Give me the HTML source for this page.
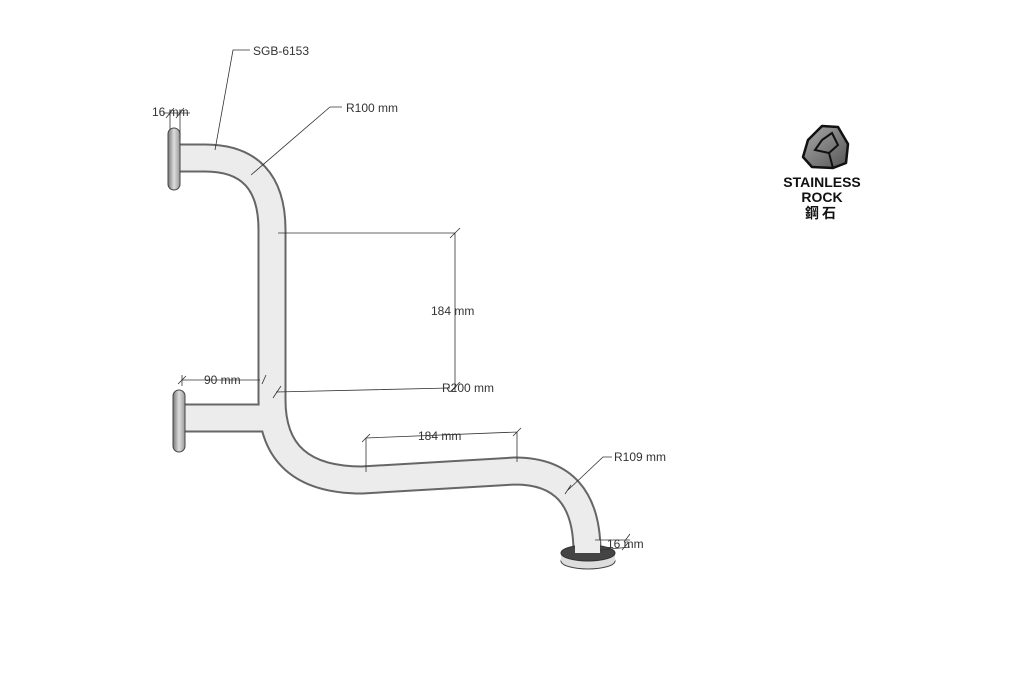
<!DOCTYPE html>
<html><head><meta charset="utf-8"><style>
html,body{margin:0;padding:0;background:#fff;}
svg{display:block;}
text{font-family:"Liberation Sans",Arial,sans-serif;font-size:12px;fill:#333;}
</style></head><body>
<svg width="1024" height="681" viewBox="0 0 1024 681" xmlns="http://www.w3.org/2000/svg">
<defs>
<linearGradient id="fl" x1="0" x2="1"><stop offset="0" stop-color="#777"/><stop offset="0.5" stop-color="#ddd"/><stop offset="1" stop-color="#999"/></linearGradient>
<linearGradient id="rock" x1="0" y1="0" x2="1" y2="1"><stop offset="0" stop-color="#aaa"/><stop offset="1" stop-color="#555"/></linearGradient>
</defs>
<!-- pipe -->
<g fill="none" stroke-linecap="butt" stroke-linejoin="round">
<path d="M180 418 L272 418" stroke="#666" stroke-width="29"/>
<path d="M180 158 L205 158 Q272 158 272 230 L272 400 Q272 480 362 480 L515 471 Q587 471 587 552" stroke="#666" stroke-width="29"/>
<path d="M180 418 L272 418" stroke="#ececec" stroke-width="25"/>
<path d="M180 158 L205 158 Q272 158 272 230 L272 400 Q272 480 362 480 L515 471 Q587 471 587 552" stroke="#ececec" stroke-width="25"/>
</g>
<!-- flanges -->
<rect x="168" y="128" width="12" height="62" rx="6" fill="url(#fl)" stroke="#444" stroke-width="1"/>
<rect x="173" y="390" width="12" height="62" rx="6" fill="url(#fl)" stroke="#444" stroke-width="1"/>
<ellipse cx="588" cy="561" rx="27" ry="8" fill="#ddd" stroke="#444"/>
<rect x="561" y="553" width="54" height="8" fill="#ddd"/>
<ellipse cx="588" cy="553" rx="27" ry="8" fill="#444" stroke="#333"/>
<rect x="575" y="540" width="25" height="13" fill="#ececec"/>
<!-- dimension lines -->
<g stroke="#333" stroke-width="0.8" fill="none">
<path d="M215 150 L233 50 L250 50"/>
<path d="M251 175 L330 107 L342 107"/>
<path d="M163 113 L190 113 M170 115 L170 130 M180 112 L180 140 M166 118 L174 108 M176 118 L184 108"/>
<path d="M278 233 L455 233 M455 233 L455 392 M450 238 L460 228"/>
<path d="M276 392 L450 388 M273 398 L281 386 M450 392 L460 382"/>
<path d="M182 380 L260 380 M182 386 L182 375 M178 384 L186 376 M262 384 L266 375"/>
<path d="M366 472 L366 438 L517 432 L517 462 M362 442 L370 434 M513 436 L521 428"/>
<path d="M568 490 L603 457 L612 457 M565 494 L571 485"/>
<path d="M595 540 L630 540 M600 550 L630 547 M624 542 L630 534 M622 550 L628 543"/>
</g>
<text x="253" y="55">SGB-6153</text>
<text x="346" y="112">R100 mm</text>
<text x="152" y="116">16 mm</text>
<text x="431" y="315">184 mm</text>
<text x="442" y="392">R200 mm</text>
<text x="204" y="384">90 mm</text>
<text x="418" y="440">184 mm</text>
<text x="614" y="461">R109 mm</text>
<text x="607" y="548">16 mm</text>
<!-- logo -->
<path d="M808 140 L822 126 L838 127 L848 144 L846 163 L833 168 L812 167 L803 157 Z" fill="url(#rock)" stroke="#111" stroke-width="2.5" stroke-linejoin="round"/>
<path d="M822 140 L832 133 L838 145 L829 153 L833 168 M829 153 L815 150 L822 140" fill="none" stroke="#111" stroke-width="2"/>
<text x="822" y="187" text-anchor="middle" style="font-weight:bold;font-size:14px;fill:#111">STAINLESS</text>
<text x="822" y="202" text-anchor="middle" style="font-weight:bold;font-size:14px;fill:#111">ROCK</text>
<text x="822" y="218" text-anchor="middle" style="font-family:'Liberation Sans','Noto Sans CJK TC',sans-serif;font-weight:bold;font-size:14px;fill:#111;letter-spacing:3px">鋼石</text>
</svg>
</body></html>
